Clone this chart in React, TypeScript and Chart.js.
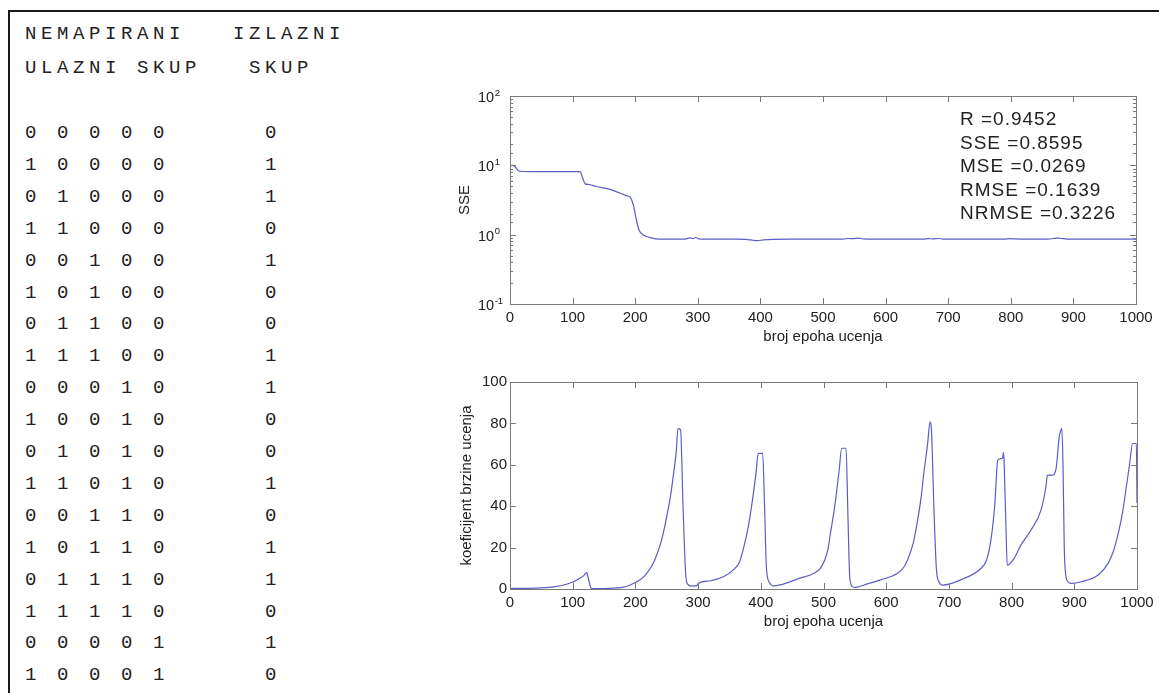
import React, { useEffect, useRef } from 'react';
import { Chart, registerables } from 'chart.js';

Chart.register(...registerables);

// ---------------- data ----------------
const HEADER_LINE_1 = 'NEMAPIRANI   IZLAZNI';
const HEADER_LINE_2 = 'ULAZNI SKUP   SKUP';

const INPUT_ROWS: number[][] = [
  [0, 0, 0, 0, 0],
  [1, 0, 0, 0, 0],
  [0, 1, 0, 0, 0],
  [1, 1, 0, 0, 0],
  [0, 0, 1, 0, 0],
  [1, 0, 1, 0, 0],
  [0, 1, 1, 0, 0],
  [1, 1, 1, 0, 0],
  [0, 0, 0, 1, 0],
  [1, 0, 0, 1, 0],
  [0, 1, 0, 1, 0],
  [1, 1, 0, 1, 0],
  [0, 0, 1, 1, 0],
  [1, 0, 1, 1, 0],
  [0, 1, 1, 1, 0],
  [1, 1, 1, 1, 0],
  [0, 0, 0, 0, 1],
  [1, 0, 0, 0, 1],
];
const OUTPUTS: number[] = [0, 1, 1, 0, 1, 0, 0, 1, 1, 0, 0, 1, 0, 1, 1, 0, 1, 0];

const X_TICKS = [0, 100, 200, 300, 400, 500, 600, 700, 800, 900, 1000];
const LOG_Y_TICKS = [0.1, 1, 10, 100];
const LR_Y_TICKS = [0, 20, 40, 60, 80, 100];

const X_TITLE = 'broj epoha ucenja';
const SSE_TITLE = 'SSE';
const LR_TITLE = 'koeficijent brzine ucenja';

const STATS_LABELS = ['R', 'SSE', 'MSE', 'RMSE', 'NRMSE'];
const STATS_VALUES = ['0.9452', '0.8595', '0.0269', '0.1639', '0.3226'];

const SSE_EPOCHS = [
  0, 4, 8, 14, 20, 50, 80, 100, 112, 116, 120, 125, 138, 160, 176, 188, 192, 197, 202, 206, 210, 218,
  226, 234, 240, 260, 280, 288, 292, 297, 302, 320, 360, 380, 388, 395, 405, 420, 450, 480, 510, 532,
  540, 548, 556, 564, 580, 620, 660, 668, 676, 684, 692, 710, 760, 790, 798, 806, 815, 830, 860, 868,
  876, 884, 892, 920, 960, 1000,
];
const SSE_VALUES = [
  9.8, 10.0, 9.6, 8.3, 8.15, 8.1, 8.1, 8.1, 8.1, 6.6, 5.4, 5.3, 4.95, 4.5, 3.96, 3.6, 3.47, 2.69,
  1.62, 1.17, 1.04, 0.94, 0.9, 0.87, 0.86, 0.86, 0.865, 0.9, 0.875, 0.91, 0.87, 0.86, 0.86, 0.85, 0.83,
  0.82, 0.84, 0.855, 0.86, 0.86, 0.86, 0.865, 0.88, 0.875, 0.89, 0.87, 0.86, 0.86, 0.86, 0.875, 0.87,
  0.88, 0.865, 0.86, 0.86, 0.86, 0.875, 0.87, 0.865, 0.86, 0.865, 0.88, 0.89, 0.875, 0.86, 0.86, 0.86,
  0.86,
];

const LR_EPOCHS = [
  0, 20, 48, 75, 90, 101, 112, 118, 122, 123, 127, 130, 150, 170, 181, 190, 200, 210, 218, 226, 234,
  242, 250, 256, 261, 265, 268, 272, 276, 280, 283, 290, 298, 300, 320, 341, 357, 366, 373, 380, 386,
  392, 396, 403, 406, 409, 414, 420, 431, 460, 485, 495, 502, 507, 511, 518, 525, 529, 536, 539, 542,
  547, 551, 570, 591, 618, 628, 634, 643, 650, 656, 660, 666, 670, 672, 676, 680, 684, 690, 724, 751,
  760, 767, 773, 778, 784, 786, 787, 788, 791, 793, 804, 815, 831, 847, 855, 857, 865, 871, 876, 878,
  880, 882, 884, 886, 890, 895, 911, 938, 954, 962, 970, 977, 983, 988, 993, 999, 1000,
];
const LR_VALUES = [
  0.3, 0.3, 0.5, 1.3, 2.3, 3.5, 5.3, 6.6, 7.9, 7.5, 2.5, 0.2, 0.2, 0.5, 0.9, 1.7, 3.1, 5.0, 7.6, 11,
  16.4, 24, 35, 45, 56, 66, 77.5, 77, 40, 8, 2.5, 1.4, 1.6, 2.7, 4, 6, 9.5, 13, 20.4, 30, 41.5, 55, 65.5,
  65.5, 40, 10, 3, 1.5, 2, 5, 7.6, 10, 14, 19, 26.8, 40, 57.5, 68, 68, 35, 5, 1, 0.8, 2.5, 4.4, 7.6, 10.5,
  14, 22, 33, 45, 55.9, 70, 80.8, 78, 40, 10, 3.5, 1.9, 5.1, 9.9, 14, 23.6, 40, 62.3, 63, 63.5, 66, 62,
  30, 11.5, 14.8, 21.3, 28.5, 38.2, 50, 55, 55, 58.3, 73.6, 76, 77.6, 60, 20, 7.6, 3.5, 2.7, 3.5, 6.8,
  12.4, 18, 26.8, 37, 49.4, 60, 70.3, 70.3, 41.5,
];

// ---------------- styles ----------------
const LINE_COLOR = 'rgb(92, 92, 200)';
const AXIS_COLOR = '#7a7a7a';
const TEXT_COLOR = '#222222';
const SANS = '"Liberation Sans", Arial, sans-serif';

const boxPlugin = {
  id: 'matlabBox',
  afterDatasetsDraw(chart: any) {
    const { ctx, chartArea } = chart;
    const { left, right, top, bottom } = chartArea;
    const xs = chart.scales.x;
    const ys = chart.scales.y;
    const isLog = ys.type === 'logarithmic';
    ctx.save();
    ctx.strokeStyle = AXIS_COLOR;
    ctx.lineWidth = 1;
    ctx.strokeRect(Math.round(left) + 0.5, Math.round(top) + 0.5, Math.round(right - left), Math.round(bottom - top));
    ctx.beginPath();
    xs.ticks.forEach((t: any) => {
      const px = Math.round(xs.getPixelForValue(t.value)) + 0.5;
      ctx.moveTo(px, bottom);
      ctx.lineTo(px, bottom - 6);
      ctx.moveTo(px, top);
      ctx.lineTo(px, top + 6);
    });
    ys.ticks.forEach((t: any) => {
      const v = t.value;
      let len = 6;
      if (isLog) {
        const l = Math.log10(v);
        len = Math.abs(l - Math.round(l)) < 1e-6 ? 6 : 3;
      }
      const py = Math.round(ys.getPixelForValue(v)) + 0.5;
      ctx.moveTo(left, py);
      ctx.lineTo(left + len, py);
      ctx.moveTo(right, py);
      ctx.lineTo(right - len, py);
    });
    ctx.stroke();
    ctx.restore();
  },
};

const logLabelPlugin = {
  id: 'logLabels',
  afterDraw(chart: any) {
    const ys = chart.scales.y;
    const ctx = chart.ctx;
    const x0 = chart.chartArea.left - 32;
    ctx.save();
    ctx.fillStyle = TEXT_COLOR;
    ctx.textAlign = 'left';
    ctx.textBaseline = 'middle';
    LOG_Y_TICKS.forEach((v) => {
      const py = ys.getPixelForValue(v);
      const exp = Math.round(Math.log10(v));
      ctx.font = `14.5px ${SANS}`;
      ctx.fillText('10', x0, py + 2);
      const w = ctx.measureText('10').width;
      ctx.font = `9.5px ${SANS}`;
      ctx.fillText(exp < 0 ? '-' + Math.abs(exp) : String(exp), x0 + w + 0.5, py - 3);
    });
    ctx.restore();
  },
};

const statsPlugin = {
  id: 'stats',
  afterDraw(chart: any) {
    const ctx = chart.ctx;
    const { right, top } = chart.chartArea;
    ctx.save();
    ctx.fillStyle = TEXT_COLOR;
    ctx.font = `19px ${SANS}`;
    (ctx as any).letterSpacing = '1px';
    ctx.textAlign = 'left';
    ctx.textBaseline = 'middle';
    STATS_LABELS.forEach((lab, i) => {
      ctx.fillText(`${lab} =${STATS_VALUES[i]}`, right - 176, top + 24 + i * 23.5);
    });
    ctx.restore();
  },
};

function xScale() {
  return {
    type: 'linear',
    min: 0,
    max: 1000,
    afterBuildTicks: (s: any) => {
      s.ticks = X_TICKS.map((v) => ({ value: v }));
    },
    afterFit: (s: any) => {
      s.height = 46;
    },
    grid: { display: false, drawTicks: false },
    border: { display: false },
    ticks: {
      padding: 4.5,
      font: { family: SANS, size: 15 },
      color: TEXT_COLOR,
      maxRotation: 0,
      autoSkip: false,
      callback: (v: any) => String(v),
    },
    title: {
      display: true,
      text: X_TITLE,
      font: { family: SANS, size: 15 },
      color: TEXT_COLOR,
      padding: { top: 0, bottom: 4 },
    },
  };
}

function baseOptions(padRight: number, scales: any) {
  return {
    animation: false,
    responsive: false,
    maintainAspectRatio: false,
    events: [],
    layout: { padding: { top: 16, right: padRight, left: 0, bottom: 0 } },
    plugins: { legend: { display: false }, tooltip: { enabled: false } },
    elements: { point: { radius: 0 } },
    scales,
  };
}

function SseChart() {
  const ref = useRef<HTMLCanvasElement>(null);
  useEffect(() => {
    if (!ref.current) return;
    const chart = new Chart(ref.current, {
      type: 'line',
      data: {
        datasets: [
          {
            data: SSE_EPOCHS.map((e, i) => ({ x: e, y: SSE_VALUES[i] })),
            borderColor: LINE_COLOR,
            borderWidth: 1.2,
            pointRadius: 0,
            fill: false,
            cubicInterpolationMode: 'monotone',
          },
        ],
      },
      options: baseOptions(23, {
        x: xScale(),
        y: {
          type: 'logarithmic',
          min: 0.1,
          max: 100,
          afterFit: (s: any) => {
            s.width = 70;
          },
          grid: { display: false, drawTicks: false },
          border: { display: false },
          ticks: { display: false },
          title: {
            display: true,
            text: SSE_TITLE,
            font: { family: SANS, size: 15 },
            color: TEXT_COLOR,
            padding: { top: 16, bottom: 0 },
          },
        },
      }) as any,
      plugins: [boxPlugin, logLabelPlugin, statsPlugin],
    } as any);
    return () => chart.destroy();
  }, []);
  return (
    <canvas
      ref={ref}
      width={719}
      height={270}
      style={{ position: 'absolute', left: 440, top: 80, width: 719, height: 270 }}
    />
  );
}

function LrChart() {
  const ref = useRef<HTMLCanvasElement>(null);
  useEffect(() => {
    if (!ref.current) return;
    const chart = new Chart(ref.current, {
      type: 'line',
      data: {
        datasets: [
          {
            data: LR_EPOCHS.map((e, i) => ({ x: e, y: LR_VALUES[i] })),
            borderColor: LINE_COLOR,
            borderWidth: 1.2,
            pointRadius: 0,
            fill: false,
            cubicInterpolationMode: 'monotone',
          },
        ],
      },
      options: baseOptions(22, {
        x: xScale(),
        y: {
          type: 'linear',
          min: 0,
          max: 100,
          afterBuildTicks: (s: any) => {
            s.ticks = LR_Y_TICKS.map((v) => ({ value: v }));
          },
          afterFit: (s: any) => {
            s.width = 70;
          },
          grid: { display: false, drawTicks: false },
          border: { display: false },
          ticks: { padding: 3, font: { family: SANS, size: 15 }, color: TEXT_COLOR },
          title: {
            display: true,
            text: LR_TITLE,
            font: { family: SANS, size: 15 },
            color: TEXT_COLOR,
            padding: { top: 18, bottom: 0 },
          },
        },
      }) as any,
      plugins: [boxPlugin],
    } as any);
    return () => chart.destroy();
  }, []);
  return (
    <canvas
      ref={ref}
      width={719}
      height={269}
      style={{ position: 'absolute', left: 440, top: 366, width: 719, height: 269 }}
    />
  );
}

const MONO: React.CSSProperties = {
  position: 'absolute',
  left: 25,
  fontFamily: '"Liberation Mono", "DejaVu Sans Mono", monospace',
  fontSize: 19,
  letterSpacing: '4.6px',
  lineHeight: '20px',
  whiteSpace: 'pre',
  color: TEXT_COLOR,
};

export default function App() {
  return (
    <div
      style={{
        position: 'fixed',
        left: 0,
        top: 0,
        width: 1159,
        height: 693,
        background: '#ffffff',
        overflow: 'hidden',
      }}
    >
      <div
        style={{
          position: 'absolute',
          left: 8,
          top: 10,
          width: 1200,
          height: 800,
          borderTop: '2px solid #1a1a1a',
          borderLeft: '2px solid #1a1a1a',
        }}
      />
      <div style={{ ...MONO, top: 33 - 9 }}>{HEADER_LINE_1}</div>
      <div style={{ ...MONO, top: 67 - 9 }}>{HEADER_LINE_2}</div>
      {INPUT_ROWS.map((row, i) => (
        <div key={i} style={{ ...MONO, top: 132 + 31.9 * i - 9 }}>
          {row.join(' ') + '      ' + OUTPUTS[i]}
        </div>
      ))}
      <SseChart />
      <LrChart />
    </div>
  );
}
